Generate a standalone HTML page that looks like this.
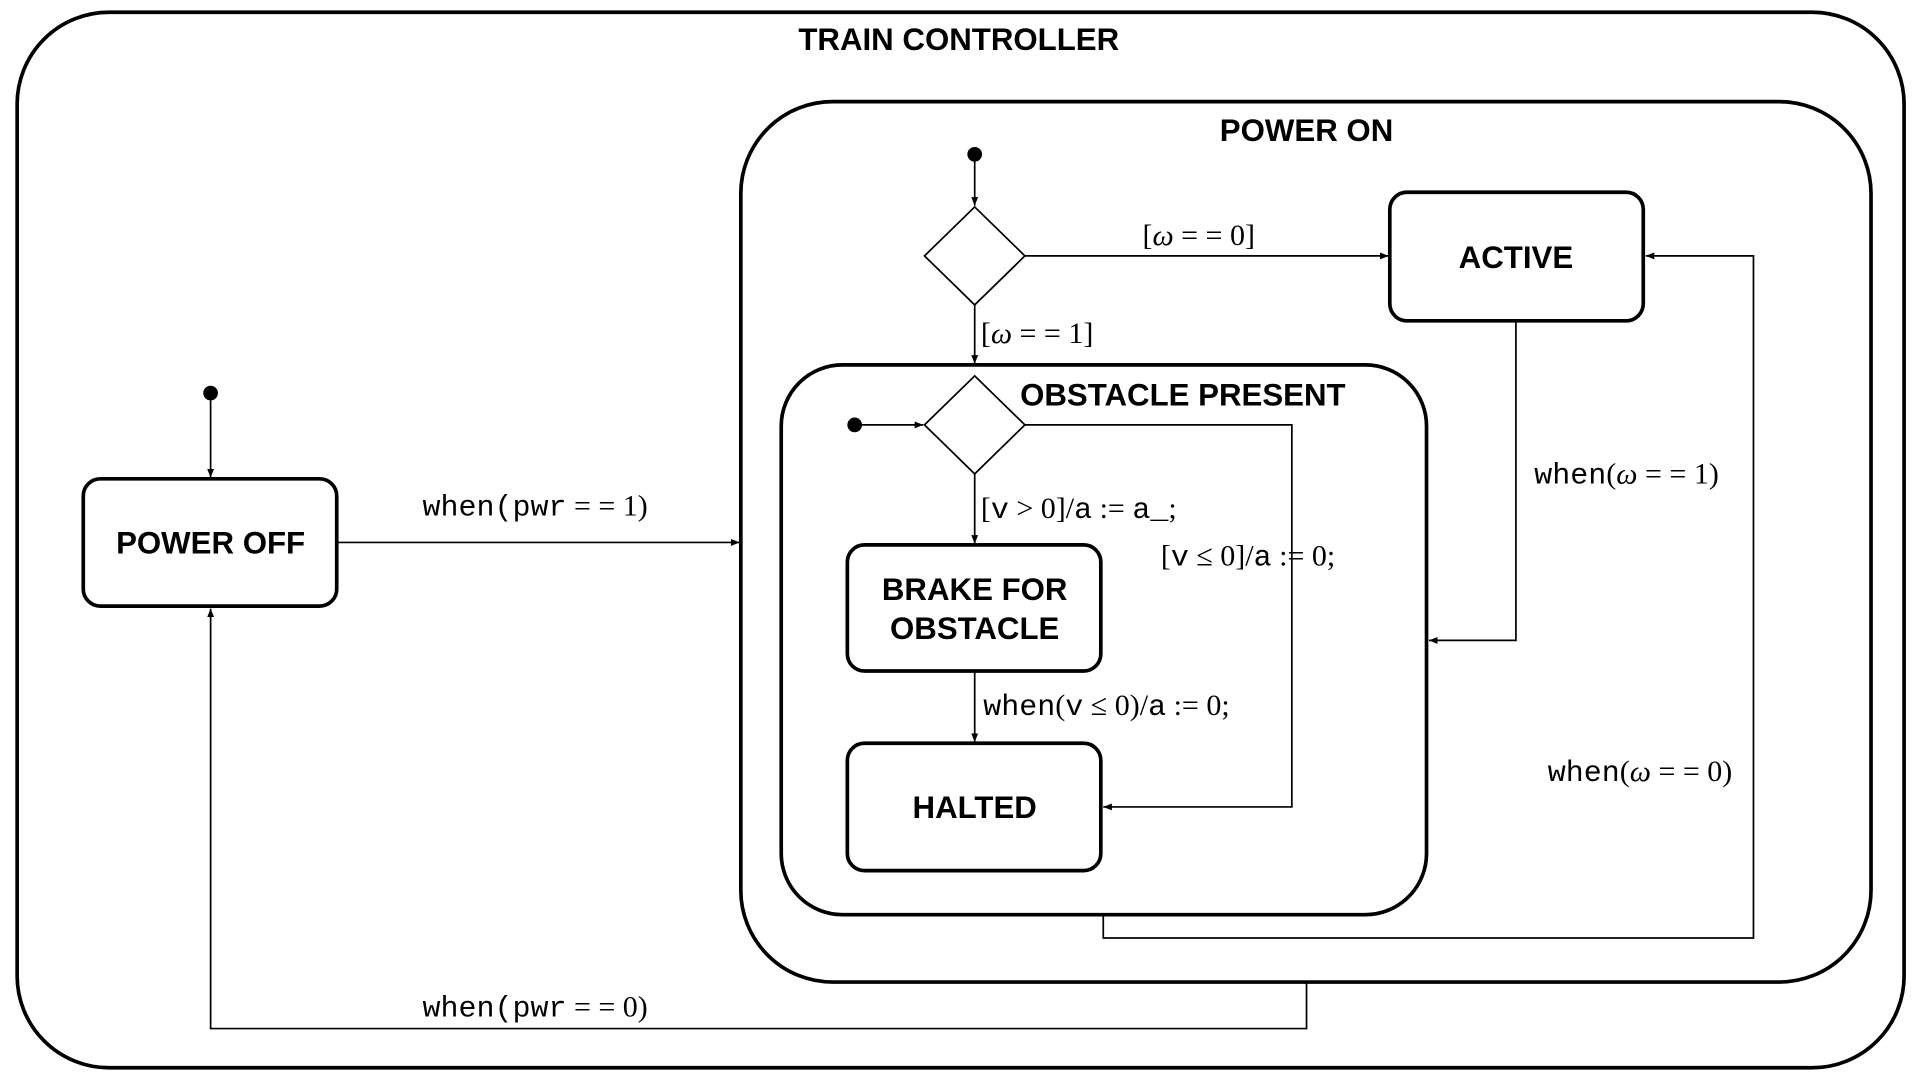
<!DOCTYPE html>
<html><head><meta charset="utf-8"><style>html,body{margin:0;padding:0;background:#fff}svg{display:block}</style></head>
<body>
<svg width="1920" height="1080" viewBox="0 0 1568 882" xmlns="http://www.w3.org/2000/svg">
<defs><marker id="a" viewBox="0 0 10 10" refX="10" refY="5" markerWidth="7" markerHeight="7" markerUnits="userSpaceOnUse" orient="auto"><path d="M0,1 L10,5 L0,9 z" fill="#000"/></marker></defs>
<g fill="none" stroke="#000" stroke-width="3">
<rect x="14" y="10" width="1541" height="862" rx="75"/>
<rect x="605" y="83" width="923" height="719" rx="75"/>
<rect x="638" y="298" width="527" height="449" rx="50"/>
<rect x="1135" y="157" width="207" height="105" rx="14"/>
<rect x="692" y="445" width="207" height="103" rx="14"/>
<rect x="692" y="607" width="207" height="104" rx="14"/>
<rect x="68" y="391" width="207" height="104" rx="14"/>
</g>
<g fill="none" stroke="#000" stroke-width="1.4">
<polygon points="796,169 837,209 796,249 755,209" fill="#fff"/>
<polygon points="796,307 837,347 796,387 755,347" fill="#fff"/>
<line x1="796" y1="126" x2="796" y2="168" marker-end="url(#a)"/>
<line x1="837" y1="209" x2="1134" y2="209" marker-end="url(#a)"/>
<line x1="796" y1="249" x2="796" y2="297" marker-end="url(#a)"/>
<line x1="698" y1="347" x2="754" y2="347" marker-end="url(#a)"/>
<polyline points="837,347 1055,347 1055,659 901,659" marker-end="url(#a)"/>
<line x1="796" y1="387" x2="796" y2="444" marker-end="url(#a)"/>
<line x1="796" y1="548" x2="796" y2="606" marker-end="url(#a)"/>
<polyline points="1238,262 1238,523 1167,523" marker-end="url(#a)"/>
<polyline points="901,747 901,766 1432,766 1432,209 1344,209" marker-end="url(#a)"/>
<line x1="172" y1="321" x2="172" y2="390" marker-end="url(#a)"/>
<line x1="275" y1="443" x2="604" y2="443" marker-end="url(#a)"/>
<polyline points="1067,802 1067,840 172,840 172,497" marker-end="url(#a)"/>
</g>
<g fill="#000"><circle cx="796" cy="126" r="6"/><circle cx="698" cy="347" r="6"/><circle cx="172" cy="321" r="6"/></g>
<g font-family="Liberation Sans, sans-serif" font-weight="bold" font-size="25.5" text-anchor="middle" fill="#000">
<text x="783" y="41">TRAIN CONTROLLER</text>
<text x="1067" y="115">POWER ON</text>
<text x="966" y="331">OBSTACLE PRESENT</text>
<text x="1238" y="219">ACTIVE</text>
<text x="796" y="490">BRAKE FOR</text>
<text x="796" y="522">OBSTACLE</text>
<text x="796" y="668">HALTED</text>
<text x="172" y="452">POWER OFF</text>
</g>
<g font-family="Liberation Serif, serif" font-size="24.5" fill="#000">
<text x="933" y="200">[<tspan font-style="italic">ω</tspan> = = 0]</text>
<text x="801" y="280">[<tspan font-style="italic">ω</tspan> = = 1]</text>
<text x="801" y="423">[<tspan font-family="Liberation Mono, monospace">v</tspan> &gt; 0]/<tspan font-family="Liberation Mono, monospace">a</tspan> := <tspan font-family="Liberation Mono, monospace">a_</tspan>;</text>
<text x="948" y="462">[<tspan font-family="Liberation Mono, monospace">v</tspan> ≤ 0]/<tspan font-family="Liberation Mono, monospace">a</tspan> := 0;</text>
<text x="803" y="584"><tspan font-family="Liberation Mono, monospace">when</tspan>(<tspan font-family="Liberation Mono, monospace">v</tspan> ≤ 0)/<tspan font-family="Liberation Mono, monospace">a</tspan> := 0;</text>
<text x="1253" y="395"><tspan font-family="Liberation Mono, monospace">when</tspan>(<tspan font-style="italic">ω</tspan> = = 1)</text>
<text x="1264" y="638"><tspan font-family="Liberation Mono, monospace">when</tspan>(<tspan font-style="italic">ω</tspan> = = 0)</text>
<text x="345" y="421"><tspan font-family="Liberation Mono, monospace">when(pwr</tspan> = = 1)</text>
<text x="345" y="830"><tspan font-family="Liberation Mono, monospace">when(pwr</tspan> = = 0)</text>
</g>
</svg>
</body></html>
